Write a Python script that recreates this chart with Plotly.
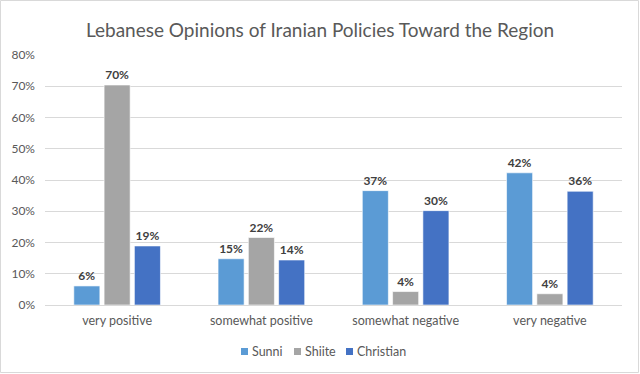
import plotly.graph_objects as go

categories = ["very positive", "somewhat positive", "somewhat negative", "very negative"]
sunni = [6.1, 14.8, 36.6, 42.3]
shiite = [70.4, 21.6, 4.3, 3.6]
christian = [18.9, 14.4, 30.2, 36.4]
series_names = ["Sunni", "Shiite", "Christian"]
colors = ["#5B9BD5", "#A5A5A5", "#4472C4"]
tick_vals = [0, 10, 20, 30, 40, 50, 60, 70, 80]
tick_text = [f"{v}%" for v in tick_vals]

FONT = "Lato, Carlito, Calibri, sans-serif"
W, H = 640, 374
ML, MR, MT, MB = 45, 18, 55, 69
PW, PH = W - ML - MR, H - MT - MB

fig = go.Figure()
for name, vals, col in zip(series_names, [sunni, shiite, christian], colors):
    fig.add_trace(go.Bar(
        x=categories, y=vals, name=name,
        marker=dict(color=col, line=dict(color="rgba(255,255,255,0.6)", width=1)),
        text=[f"{round(v)}%" for v in vals],
        textposition="outside",
        textfont=dict(family=FONT, size=12, color="#404040", weight="bold"),
        cliponaxis=False,
        showlegend=False,
    ))

# manual compact legend (Excel style)
legend_x = [241, 294, 346]
legend_y = 351.5
for name, col, lx in zip(series_names, colors, legend_x):
    fig.add_shape(type="rect", xref="paper", yref="paper",
                  x0=(lx - ML) / PW, x1=(lx + 7 - ML) / PW,
                  y0=(H - MB - legend_y - 3.5) / PH, y1=(H - MB - legend_y + 3.5) / PH,
                  line=dict(width=0), fillcolor=col)
    fig.add_annotation(xref="paper", yref="paper", x=(lx + 9 - ML) / PW,
                       y=(H - MB - legend_y) / PH, xanchor="left", yanchor="middle",
                       text=name, showarrow=False,
                       font=dict(family=FONT, size=12.5, color="#595959"))

fig.update_layout(
    width=W, height=H,
    margin=dict(l=ML, r=MR, t=MT, b=MB, autoexpand=False),
    paper_bgcolor="white", plot_bgcolor="white",
    barmode="group", bargap=0.37, bargroupgap=0.14,
    title=dict(text="Lebanese Opinions of Iranian Policies Toward the Region",
               x=0.5, xanchor="center", y=1 - 30 / H, yanchor="middle",
               font=dict(family=FONT, size=19, color="#595959")),
    font=dict(family=FONT, size=12, color="#595959"),
    showlegend=False,
)
fig.update_yaxes(range=[0, 80], tickvals=tick_vals, ticktext=tick_text,
                 showgrid=True, gridcolor="#D9D9D9", gridwidth=1,
                 zeroline=False, showline=False, ticks="", ticklabelstandoff=9,
                 tickfont=dict(family=FONT, size=12, color="#595959"))
fig.update_xaxes(showline=True, linecolor="#D9D9D9", linewidth=1, ticks="",
                 ticklabelstandoff=4,
                 tickfont=dict(family=FONT, size=12.5, color="#595959"))

fig.add_shape(type="rect", xref="paper", yref="paper",
              x0=-(ML - 0.5) / PW, x1=1 + (MR - 1.5) / PW,
              y0=-(MB - 1.5) / PH, y1=1 + (MT - 0.5) / PH,
              line=dict(color="#D9D9D9", width=1), fillcolor="rgba(0,0,0,0)", layer="below")

fig.write_html("out.html", config={"displayModeBar": False},
               post_script="document.body.style.margin='0';")
